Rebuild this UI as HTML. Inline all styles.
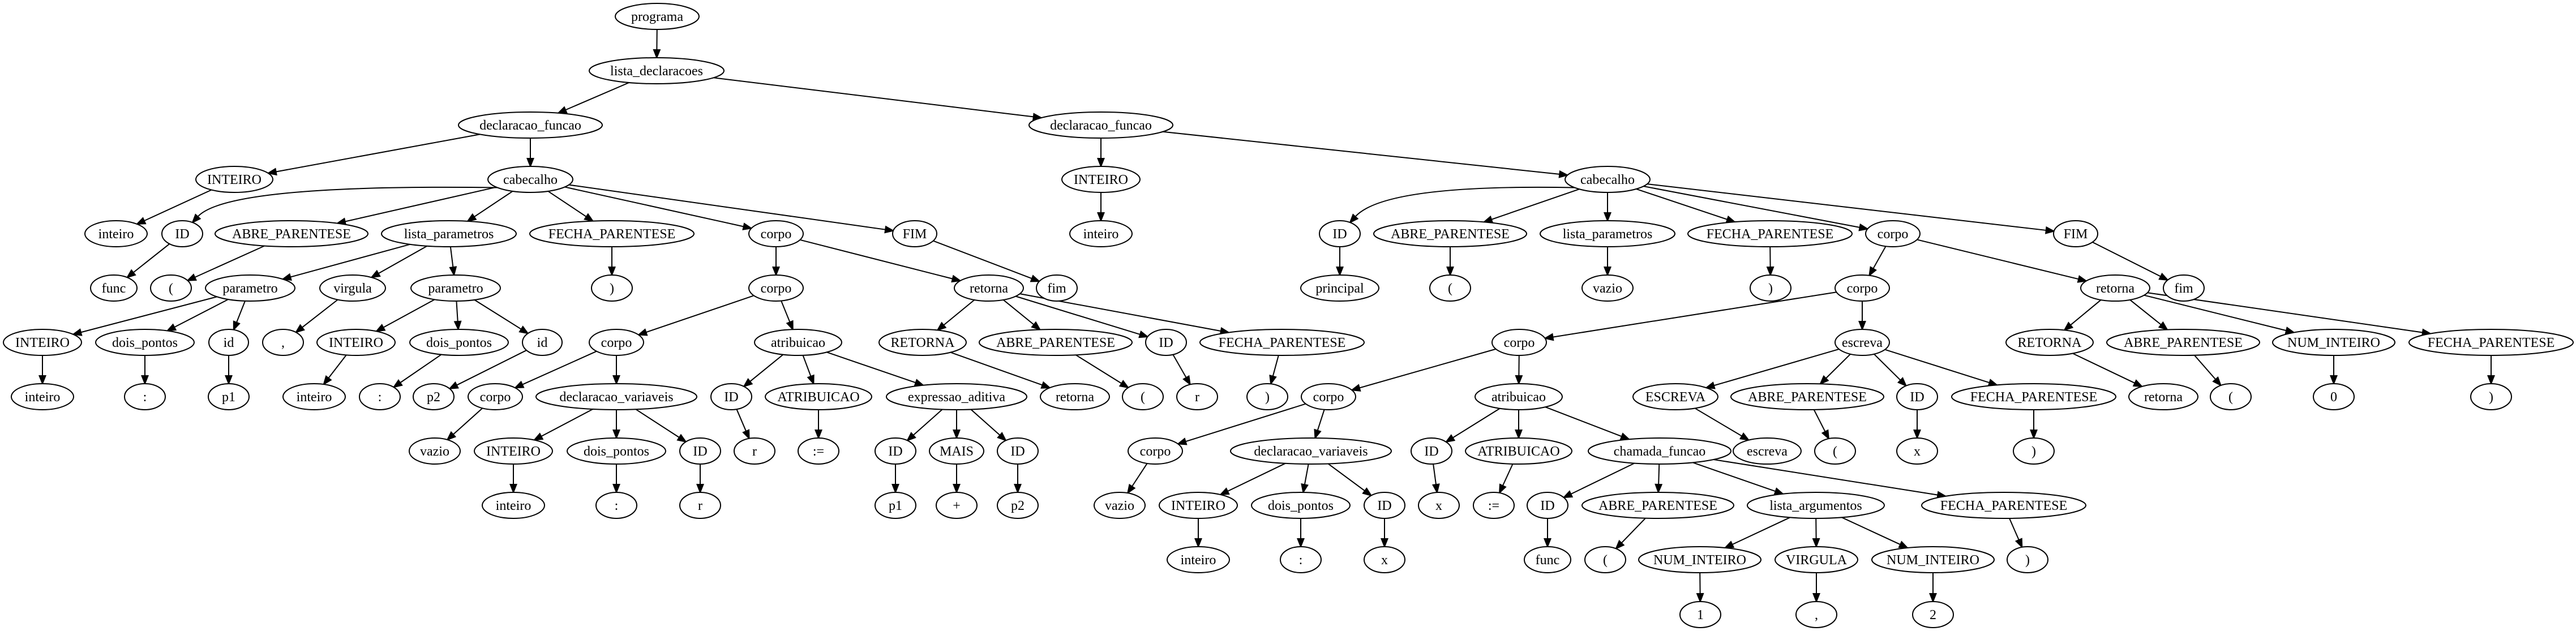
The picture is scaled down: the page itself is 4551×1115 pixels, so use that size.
<!DOCTYPE html>
<html><head><meta charset="utf-8">
<style>
html,body{margin:0;padding:0;background:#fff;}
svg{display:block;}
text{font-family:"Liberation Serif",serif;font-size:24px;text-anchor:middle;fill:#000;}
ellipse{fill:#fff;stroke:#000;stroke-width:2;}
</style></head>
<body>
<svg id="s" width="4551" height="1115" viewBox="0 0 4551 1115" xmlns="http://www.w3.org/2000/svg">
<rect width="4551" height="1115" fill="#fff"/>
<g id="edges" stroke="#000" stroke-width="2" fill="#000"></g>
<g id="nodes">
<g><ellipse id="n0" cx="1161" cy="29" rx="74" ry="23"/><text x="1161" y="37">programa</text></g>
<g><ellipse id="n1" cx="1160" cy="125" rx="119" ry="23"/><text x="1160" y="133">lista_declaracoes</text></g>
<g><ellipse id="n2" cx="937" cy="221" rx="127" ry="23"/><text x="937" y="229">declaracao_funcao</text></g>
<g><ellipse id="n3" cx="1945" cy="221" rx="127" ry="23"/><text x="1945" y="229">declaracao_funcao</text></g>
<g><ellipse id="n4" cx="414" cy="317" rx="68" ry="23"/><text x="414" y="325">INTEIRO</text></g>
<g><ellipse id="n5" cx="937" cy="317" rx="75" ry="23"/><text x="937" y="325">cabecalho</text></g>
<g><ellipse id="n6" cx="1945" cy="317" rx="69" ry="23"/><text x="1945" y="325">INTEIRO</text></g>
<g><ellipse id="n7" cx="2840" cy="317" rx="75" ry="23"/><text x="2840" y="325">cabecalho</text></g>

<g><ellipse id="a1" cx="205" cy="413" rx="55" ry="23"/><text x="205" y="421">inteiro</text></g>
<g><ellipse id="a2" cx="322" cy="413" rx="36" ry="23"/><text x="322" y="421">ID</text></g>
<g><ellipse id="a3" cx="515" cy="413" rx="135" ry="23"/><text x="515" y="421">ABRE_PARENTESE</text></g>
<g><ellipse id="a4" cx="793" cy="413" rx="119" ry="23"/><text x="793" y="421">lista_parametros</text></g>
<g><ellipse id="a5" cx="1081" cy="413" rx="145" ry="23"/><text x="1081" y="421">FECHA_PARENTESE</text></g>
<g><ellipse id="a6" cx="1371" cy="413" rx="48" ry="23"/><text x="1371" y="421">corpo</text></g>
<g><ellipse id="a7" cx="1616" cy="413" rx="39" ry="23"/><text x="1616" y="421">FIM</text></g>
<g><ellipse id="a8" cx="1945" cy="413" rx="55" ry="23"/><text x="1945" y="421">inteiro</text></g>
<g><ellipse id="a9" cx="2367" cy="413" rx="36" ry="23"/><text x="2367" y="421">ID</text></g>
<g><ellipse id="a10" cx="2562" cy="413" rx="135" ry="23"/><text x="2562" y="421">ABRE_PARENTESE</text></g>
<g><ellipse id="a11" cx="2840" cy="413" rx="119" ry="23"/><text x="2840" y="421">lista_parametros</text></g>
<g><ellipse id="a12" cx="3127" cy="413" rx="145" ry="23"/><text x="3127" y="421">FECHA_PARENTESE</text></g>
<g><ellipse id="a13" cx="3344" cy="413" rx="48" ry="23"/><text x="3344" y="421">corpo</text></g>
<g><ellipse id="a14" cx="3667" cy="413" rx="39" ry="23"/><text x="3667" y="421">FIM</text></g>

<g><ellipse id="b1" cx="201" cy="509" rx="41" ry="23"/><text x="201" y="517">func</text></g>
<g><ellipse id="b2" cx="302" cy="509" rx="36" ry="23"/><text x="302" y="517">(</text></g>
<g><ellipse id="b3" cx="442" cy="509" rx="79" ry="23"/><text x="442" y="517">parametro</text></g>
<g><ellipse id="b4" cx="623" cy="509" rx="58" ry="23"/><text x="623" y="517">virgula</text></g>
<g><ellipse id="b5" cx="805" cy="509" rx="79" ry="23"/><text x="805" y="517">parametro</text></g>
<g><ellipse id="b6" cx="1081" cy="509" rx="36" ry="23"/><text x="1081" y="517">)</text></g>
<g><ellipse id="b7" cx="1371" cy="509" rx="48" ry="23"/><text x="1371" y="517">corpo</text></g>
<g><ellipse id="b8" cx="1747" cy="509" rx="61" ry="23"/><text x="1747" y="517">retorna</text></g>
<g><ellipse id="b9" cx="1867" cy="509" rx="36" ry="23"/><text x="1867" y="517">fim</text></g>
<g><ellipse id="b10" cx="2367" cy="509" rx="69" ry="23"/><text x="2367" y="517">principal</text></g>
<g><ellipse id="b11" cx="2562" cy="509" rx="36" ry="23"/><text x="2562" y="517">(</text></g>
<g><ellipse id="b12" cx="2840" cy="509" rx="45" ry="23"/><text x="2840" y="517">vazio</text></g>
<g><ellipse id="b13" cx="3128" cy="509" rx="36" ry="23"/><text x="3128" y="517">)</text></g>
<g><ellipse id="b14" cx="3290" cy="509" rx="48" ry="23"/><text x="3290" y="517">corpo</text></g>
<g><ellipse id="b15" cx="3737" cy="509" rx="61" ry="23"/><text x="3737" y="517">retorna</text></g>
<g><ellipse id="b16" cx="3858" cy="509" rx="36" ry="23"/><text x="3858" y="517">fim</text></g>

<g><ellipse id="c1" cx="75" cy="605" rx="69" ry="23"/><text x="75" y="613">INTEIRO</text></g>
<g><ellipse id="c2" cx="256" cy="605" rx="87" ry="23"/><text x="256" y="613">dois_pontos</text></g>
<g><ellipse id="c3" cx="404" cy="605" rx="35" ry="23"/><text x="404" y="613">id</text></g>
<g><ellipse id="c4" cx="500" cy="605" rx="36" ry="23"/><text x="500" y="613">,</text></g>
<g><ellipse id="c5" cx="629" cy="605" rx="69" ry="23"/><text x="629" y="613">INTEIRO</text></g>
<g><ellipse id="c6" cx="811" cy="605" rx="87" ry="23"/><text x="811" y="613">dois_pontos</text></g>
<g><ellipse id="c7" cx="958" cy="605" rx="35" ry="23"/><text x="958" y="613">id</text></g>
<g><ellipse id="c8" cx="1089" cy="605" rx="48" ry="23"/><text x="1089" y="613">corpo</text></g>
<g><ellipse id="c9" cx="1410" cy="605" rx="77" ry="23"/><text x="1410" y="613">atribuicao</text></g>
<g><ellipse id="c10" cx="1630" cy="605" rx="77" ry="23"/><text x="1630" y="613">RETORNA</text></g>
<g><ellipse id="c11" cx="1865" cy="605" rx="135" ry="23"/><text x="1865" y="613">ABRE_PARENTESE</text></g>
<g><ellipse id="c12" cx="2060" cy="605" rx="36" ry="23"/><text x="2060" y="613">ID</text></g>
<g><ellipse id="c13" cx="2265" cy="605" rx="145" ry="23"/><text x="2265" y="613">FECHA_PARENTESE</text></g>
<g><ellipse id="c14" cx="2684" cy="605" rx="48" ry="23"/><text x="2684" y="613">corpo</text></g>
<g><ellipse id="c15" cx="3290" cy="605" rx="48" ry="23"/><text x="3290" y="613">escreva</text></g>
<g><ellipse id="c16" cx="3621" cy="605" rx="77" ry="23"/><text x="3621" y="613">RETORNA</text></g>
<g><ellipse id="c17" cx="3857" cy="605" rx="135" ry="23"/><text x="3857" y="613">ABRE_PARENTESE</text></g>
<g><ellipse id="c18" cx="4123" cy="605" rx="108" ry="23"/><text x="4123" y="613">NUM_INTEIRO</text></g>
<g><ellipse id="c19" cx="4401" cy="605" rx="145" ry="23"/><text x="4401" y="613">FECHA_PARENTESE</text></g>

<g><ellipse id="d1" cx="75" cy="701" rx="55" ry="23"/><text x="75" y="709">inteiro</text></g>
<g><ellipse id="d2" cx="256" cy="701" rx="36" ry="23"/><text x="256" y="709">:</text></g>
<g><ellipse id="d3" cx="404" cy="701" rx="36" ry="23"/><text x="404" y="709">p1</text></g>
<g><ellipse id="d4" cx="555" cy="701" rx="55" ry="23"/><text x="555" y="709">inteiro</text></g>
<g><ellipse id="d5" cx="671" cy="701" rx="36" ry="23"/><text x="671" y="709">:</text></g>
<g><ellipse id="d6" cx="766" cy="701" rx="36" ry="23"/><text x="766" y="709">p2</text></g>
<g><ellipse id="d7" cx="875" cy="701" rx="48" ry="23"/><text x="875" y="709">corpo</text></g>
<g><ellipse id="d8" cx="1089" cy="701" rx="142" ry="23"/><text x="1089" y="709">declaracao_variaveis</text></g>
<g><ellipse id="d9" cx="1292" cy="701" rx="36" ry="23"/><text x="1292" y="709">ID</text></g>
<g><ellipse id="d10" cx="1446" cy="701" rx="94" ry="23"/><text x="1446" y="709">ATRIBUICAO</text></g>
<g><ellipse id="d11" cx="1690" cy="701" rx="124" ry="23"/><text x="1690" y="709">expressao_aditiva</text></g>
<g><ellipse id="d12" cx="1899" cy="701" rx="61" ry="23"/><text x="1899" y="709">retorna</text></g>
<g><ellipse id="d13" cx="2019" cy="701" rx="36" ry="23"/><text x="2019" y="709">(</text></g>
<g><ellipse id="d14" cx="2115" cy="701" rx="36" ry="23"/><text x="2115" y="709">r</text></g>
<g><ellipse id="d15" cx="2239" cy="701" rx="36" ry="23"/><text x="2239" y="709">)</text></g>
<g><ellipse id="d16" cx="2347" cy="701" rx="48" ry="23"/><text x="2347" y="709">corpo</text></g>
<g><ellipse id="d17" cx="2683" cy="701" rx="77" ry="23"/><text x="2683" y="709">atribuicao</text></g>
<g><ellipse id="d18" cx="2960" cy="701" rx="75" ry="23"/><text x="2960" y="709">ESCREVA</text></g>
<g><ellipse id="d19" cx="3193" cy="701" rx="135" ry="23"/><text x="3193" y="709">ABRE_PARENTESE</text></g>
<g><ellipse id="d20" cx="3387" cy="701" rx="36" ry="23"/><text x="3387" y="709">ID</text></g>
<g><ellipse id="d21" cx="3593" cy="701" rx="145" ry="23"/><text x="3593" y="709">FECHA_PARENTESE</text></g>
<g><ellipse id="d22" cx="3822" cy="701" rx="61" ry="23"/><text x="3822" y="709">retorna</text></g>
<g><ellipse id="d23" cx="3941" cy="701" rx="36" ry="23"/><text x="3941" y="709">(</text></g>
<g><ellipse id="d24" cx="4123" cy="701" rx="36" ry="23"/><text x="4123" y="709">0</text></g>
<g><ellipse id="d25" cx="4401" cy="701" rx="36" ry="23"/><text x="4401" y="709">)</text></g>

<g><ellipse id="e1" cx="768" cy="797" rx="45" ry="23"/><text x="768" y="805">vazio</text></g>
<g><ellipse id="e2" cx="907" cy="797" rx="69" ry="23"/><text x="907" y="805">INTEIRO</text></g>
<g><ellipse id="e3" cx="1089" cy="797" rx="87" ry="23"/><text x="1089" y="805">dois_pontos</text></g>
<g><ellipse id="e4" cx="1237" cy="797" rx="36" ry="23"/><text x="1237" y="805">ID</text></g>
<g><ellipse id="e5" cx="1333" cy="797" rx="36" ry="23"/><text x="1333" y="805">r</text></g>
<g><ellipse id="e6" cx="1446" cy="797" rx="36" ry="23"/><text x="1446" y="805">:=</text></g>
<g><ellipse id="e7" cx="1582" cy="797" rx="36" ry="23"/><text x="1582" y="805">ID</text></g>
<g><ellipse id="e8" cx="1690" cy="797" rx="48" ry="23"/><text x="1690" y="805">MAIS</text></g>
<g><ellipse id="e9" cx="1798" cy="797" rx="36" ry="23"/><text x="1798" y="805">ID</text></g>
<g><ellipse id="e10" cx="2041" cy="797" rx="48" ry="23"/><text x="2041" y="805">corpo</text></g>
<g><ellipse id="e11" cx="2316" cy="797" rx="142" ry="23"/><text x="2316" y="805">declaracao_variaveis</text></g>
<g><ellipse id="e12" cx="2529" cy="797" rx="36" ry="23"/><text x="2529" y="805">ID</text></g>
<g><ellipse id="e13" cx="2683" cy="797" rx="94" ry="23"/><text x="2683" y="805">ATRIBUICAO</text></g>
<g><ellipse id="e14" cx="2932" cy="797" rx="126" ry="23"/><text x="2932" y="805">chamada_funcao</text></g>
<g><ellipse id="e15" cx="3122" cy="797" rx="60" ry="23"/><text x="3122" y="805">escreva</text></g>
<g><ellipse id="e16" cx="3242" cy="797" rx="36" ry="23"/><text x="3242" y="805">(</text></g>
<g><ellipse id="e17" cx="3387" cy="797" rx="36" ry="23"/><text x="3387" y="805">x</text></g>
<g><ellipse id="e18" cx="3593" cy="797" rx="36" ry="23"/><text x="3593" y="805">)</text></g>

<g><ellipse id="f1" cx="907" cy="893" rx="55" ry="23"/><text x="907" y="901">inteiro</text></g>
<g><ellipse id="f2" cx="1089" cy="893" rx="36" ry="23"/><text x="1089" y="901">:</text></g>
<g><ellipse id="f3" cx="1237" cy="893" rx="36" ry="23"/><text x="1237" y="901">r</text></g>
<g><ellipse id="f4" cx="1582" cy="893" rx="36" ry="23"/><text x="1582" y="901">p1</text></g>
<g><ellipse id="f5" cx="1690" cy="893" rx="36" ry="23"/><text x="1690" y="901">+</text></g>
<g><ellipse id="f6" cx="1798" cy="893" rx="36" ry="23"/><text x="1798" y="901">p2</text></g>
<g><ellipse id="f7" cx="1978" cy="893" rx="45" ry="23"/><text x="1978" y="901">vazio</text></g>
<g><ellipse id="f8" cx="2117" cy="893" rx="69" ry="23"/><text x="2117" y="901">INTEIRO</text></g>
<g><ellipse id="f9" cx="2298" cy="893" rx="87" ry="23"/><text x="2298" y="901">dois_pontos</text></g>
<g><ellipse id="f10" cx="2446" cy="893" rx="36" ry="23"/><text x="2446" y="901">ID</text></g>
<g><ellipse id="f11" cx="2542" cy="893" rx="36" ry="23"/><text x="2542" y="901">x</text></g>
<g><ellipse id="f12" cx="2639" cy="893" rx="36" ry="23"/><text x="2639" y="901">:=</text></g>
<g><ellipse id="f13" cx="2734" cy="893" rx="36" ry="23"/><text x="2734" y="901">ID</text></g>
<g><ellipse id="f14" cx="2929" cy="893" rx="134" ry="23"/><text x="2929" y="901">ABRE_PARENTESE</text></g>
<g><ellipse id="f15" cx="3208" cy="893" rx="121" ry="23"/><text x="3208" y="901">lista_argumentos</text></g>
<g><ellipse id="f16" cx="3540" cy="893" rx="145" ry="23"/><text x="3540" y="901">FECHA_PARENTESE</text></g>

<g><ellipse id="g1" cx="2117" cy="989" rx="55" ry="23"/><text x="2117" y="997">inteiro</text></g>
<g><ellipse id="g2" cx="2298" cy="989" rx="36" ry="23"/><text x="2298" y="997">:</text></g>
<g><ellipse id="g3" cx="2446" cy="989" rx="36" ry="23"/><text x="2446" y="997">x</text></g>
<g><ellipse id="g4" cx="2734" cy="989" rx="41" ry="23"/><text x="2734" y="997">func</text></g>
<g><ellipse id="g5" cx="2836" cy="989" rx="36" ry="23"/><text x="2836" y="997">(</text></g>
<g><ellipse id="g6" cx="3003" cy="989" rx="108" ry="23"/><text x="3003" y="997">NUM_INTEIRO</text></g>
<g><ellipse id="g7" cx="3209" cy="989" rx="73" ry="23"/><text x="3209" y="997">VIRGULA</text></g>
<g><ellipse id="g8" cx="3415" cy="989" rx="108" ry="23"/><text x="3415" y="997">NUM_INTEIRO</text></g>
<g><ellipse id="g9" cx="3582" cy="989" rx="36" ry="23"/><text x="3582" y="997">)</text></g>

<g><ellipse id="h1" cx="3004" cy="1086" rx="36" ry="23"/><text x="3004" y="1094">1</text></g>
<g><ellipse id="h2" cx="3209" cy="1086" rx="36" ry="23"/><text x="3209" y="1094">,</text></g>
<g><ellipse id="h3" cx="3415" cy="1086" rx="36" ry="23"/><text x="3415" y="1094">2</text></g>
</g>
</svg>
<script>
var E=[
["n0","n1"],["n1","n2"],["n1","n3"],["n2","n4"],["n2","n5"],["n3","n6"],["n3","n7"],
["n4","a1"],["n5","a2",1],["n5","a3"],["n5","a4"],["n5","a5"],["n5","a6"],["n5","a7"],
["n6","a8"],["n7","a9",1],["n7","a10"],["n7","a11"],["n7","a12"],["n7","a13"],["n7","a14"],
["a2","b1"],["a3","b2"],["a4","b3"],["a4","b4"],["a4","b5"],["a5","b6"],["a6","b7"],["a6","b8"],["a7","b9"],
["a9","b10"],["a10","b11"],["a11","b12"],["a12","b13"],["a13","b14"],["a13","b15"],["a14","b16"],
["b3","c1"],["b3","c2"],["b3","c3"],["b4","c4"],["b5","c5"],["b5","c6"],["b5","c7"],["b7","c8"],["b7","c9"],
["b8","c10"],["b8","c11"],["b8","c12"],["b8","c13"],["b14","c14"],["b14","c15"],
["b15","c16"],["b15","c17"],["b15","c18"],["b15","c19"],
["c1","d1"],["c2","d2"],["c3","d3"],["c5","d4"],["c6","d5"],["c7","d6"],["c8","d7"],["c8","d8"],
["c9","d9"],["c9","d10"],["c9","d11"],["c10","d12"],["c11","d13"],["c12","d14"],["c13","d15"],
["c14","d16"],["c14","d17"],["c15","d18"],["c15","d19"],["c15","d20"],["c15","d21"],
["c16","d22"],["c17","d23"],["c18","d24"],["c19","d25"],
["d7","e1"],["d8","e2"],["d8","e3"],["d8","e4"],["d9","e5"],["d10","e6"],["d11","e7"],["d11","e8"],["d11","e9"],
["d16","e10"],["d16","e11"],["d17","e12"],["d17","e13"],["d17","e14"],["d18","e15"],["d19","e16"],["d20","e17"],["d21","e18"],
["e2","f1"],["e3","f2"],["e4","f3"],["e7","f4"],["e8","f5"],["e9","f6"],["e10","f7"],["e11","f8"],["e11","f9"],["e11","f10"],
["e12","f11"],["e13","f12"],["e14","f13"],["e14","f14"],["e14","f15"],["e14","f16"],
["f8","g1"],["f9","g2"],["f10","g3"],["f13","g4"],["f14","g5"],["f15","g6"],["f15","g7"],["f15","g8"],["f16","g9"],
["g6","h1"],["g7","h2"],["g8","h3"]];
var NS="http://www.w3.org/2000/svg",G=document.getElementById("edges");
function nd(id){var e=document.getElementById(id);return{x:+e.getAttribute("cx"),y:+e.getAttribute("cy"),rx:+e.getAttribute("rx"),ry:+e.getAttribute("ry")};}
function bp(n,dx,dy){var t=1/Math.sqrt((dx/n.rx)*(dx/n.rx)+(dy/n.ry)*(dy/n.ry));return[n.x+dx*t,n.y+dy*t];}
function arrow(e,ux,uy){var al=14,aw=5.5;var bx=e[0]-ux*al,by=e[1]-uy*al;
var pg=document.createElementNS(NS,"polygon");pg.setAttribute("points",e[0]+","+e[1]+" "+(bx-uy*aw)+","+(by+ux*aw)+" "+(bx+uy*aw)+","+(by-ux*aw));G.appendChild(pg);return[bx,by];}
E.forEach(function(p){var a=nd(p[0]),b=nd(p[1]);
if(p[2]){
 var s=bp(a,-1,0.25);var c=[b.x+80,a.y+8];
 var e=bp(b,c[0]-b.x,c[1]-b.y);
 var L=Math.hypot(e[0]-c[0],e[1]-c[1]);var ux=(e[0]-c[0])/L,uy=(e[1]-c[1])/L;
 var bb=arrow(e,ux,uy);
 var pa=document.createElementNS(NS,"path");pa.setAttribute("fill","none");
 pa.setAttribute("d","M"+s[0]+","+s[1]+" Q"+c[0]+","+c[1]+" "+bb[0]+","+bb[1]);G.appendChild(pa);return;}
var dx=b.x-a.x,dy=b.y-a.y;
var s=bp(a,dx,dy),e=bp(b,-dx,-dy);var L=Math.hypot(e[0]-s[0],e[1]-s[1]);var ux=(e[0]-s[0])/L,uy=(e[1]-s[1])/L;
var bb=arrow(e,ux,uy);
var l=document.createElementNS(NS,"line");l.setAttribute("x1",s[0]);l.setAttribute("y1",s[1]);l.setAttribute("x2",bb[0]);l.setAttribute("y2",bb[1]);G.appendChild(l);});
</script>
</body></html>
